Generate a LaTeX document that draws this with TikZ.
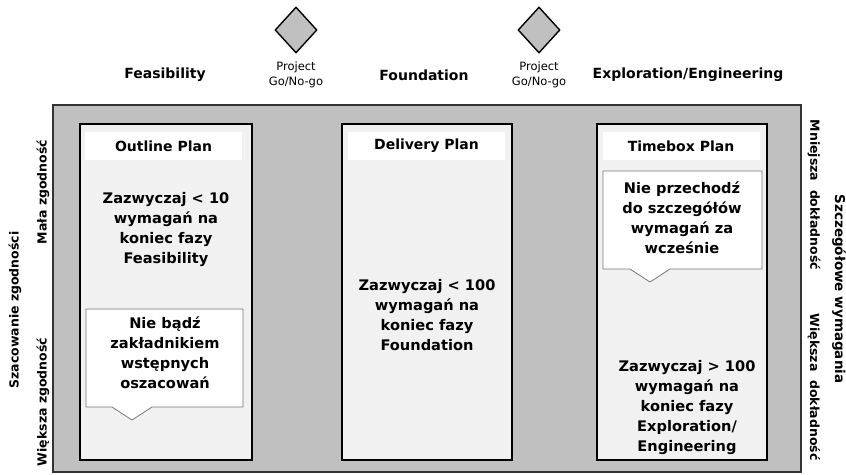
\documentclass[tikz,border=0pt]{standalone}
\usepackage{fontspec}
\setmainfont{DejaVu Sans}
\usetikzlibrary{shapes.geometric}

\definecolor{panelgray}{RGB}{192,192,192}
\definecolor{boxfill}{RGB}{241,241,241}
\definecolor{calloutedge}{RGB}{120,120,120}

\tikzset{
	phase/.style={font=\bfseries\fontsize{14}{17}\selectfont},
	gate/.style={diamond, draw=black, line width=1.4pt, fill=panelgray, minimum width=42pt, minimum height=46pt, inner sep=0pt},
	gatelabel/.style={align=center, font=\fontsize{11.5}{15}\selectfont},
	plantitle/.style={fill=white, minimum width=157pt, minimum height=28pt, inner sep=0pt, font=\bfseries\fontsize{14}{17}\selectfont},
	plantext/.style={align=center, font=\bfseries\fontsize{14.6}{20}\selectfont},
	sidelabel/.style={font=\bfseries\fontsize{12.5}{15}\selectfont},
	planbox/.style={draw=black, line width=2pt, fill=boxfill},
	callout/.style={draw=calloutedge, line width=0.8pt, fill=white},
}

\begin{document}
\begin{tikzpicture}[x=1pt, y=-1pt]
		\useasboundingbox (0,0) rectangle (846,474);
		% gates and phases
		\node[gate] (gateA) at (296,30) {};
		\node[gate] (gateB) at (539,30) {};
		\node[gatelabel] (goA) at (296,75) {Project\\Go/No-go};
		\node[gatelabel] (goB) at (539,75) {Project\\Go/No-go};
		\node[phase] (feas) at (165,75) {Feasibility};
		\node[phase] (found) at (424,75) {Foundation};
		\node[phase] (explo) at (688,75) {Exploration/Engineering};
		% panel and plan boxes
		\draw[draw=black!80, line width=1.6pt, fill=panelgray] (53,105) rectangle (801,472);
		\draw[planbox] (80,124) rectangle (252,460);
		\draw[planbox] (342,124) rectangle (512,460);
		\draw[planbox] (597,124) rectangle (767,460);
		\node[plantitle] (outline) at (163.5,146) {Outline Plan};
		\node[plantitle] (delivery) at (426.5,146) {Delivery Plan};
		\node[plantitle] (timebox) at (681,146) {Timebox Plan};
		% callouts
		\draw[callout] (86,309) -- (243,309) -- (243,407) -- (152,407) -- (132,420) -- (112,407) -- (86,407) -- cycle;
		\draw[callout] (603,171) -- (762,171) -- (762,269) -- (670,269) -- (650,282) -- (630,269) -- (603,269) -- cycle;
		% texts
		\node[plantext] (outtxt) at (166,230) {Zazwyczaj < 10\\wymagań na\\koniec fazy\\Feasibility};
		\node[plantext] (hostage) at (165,353) {Nie bądź\\zakładnikiem\\wstępnych\\oszacowań};
		\node[plantext] (deltxt) at (427,315) {Zazwyczaj < 100\\wymagań na\\koniec fazy\\Foundation};
		\node[plantext] (early) at (682,218) {Nie przechodź\\do szczegółów\\wymagań za\\wcześnie};
		\node[plantext] (tbtxt) at (687,408) {Zazwyczaj > 100\\wymagań na\\koniec fazy\\Exploration/\\Engineering};
		% side labels
		\node[sidelabel, rotate=90] (estim) at (15,310) {Szacowanie zgodności};
		\node[sidelabel, rotate=90] (lowfit) at (43,192) {Mała zgodność};
		\node[sidelabel, rotate=90] (highfit) at (43,402) {Większa zgodność};
		\node[sidelabel, rotate=-90, font=\bfseries\fontsize{13.5}{15}\selectfont] (detail) at (839,289) {Szczegółowe wymagania};
		\node[sidelabel, rotate=-90] (lowacc) at (814,195) {Mniejsza\ \ dokładność};
		\node[sidelabel, rotate=-90] (highacc) at (814,387) {Większa\ \ dokładność};
		\end{tikzpicture}
\end{document}
